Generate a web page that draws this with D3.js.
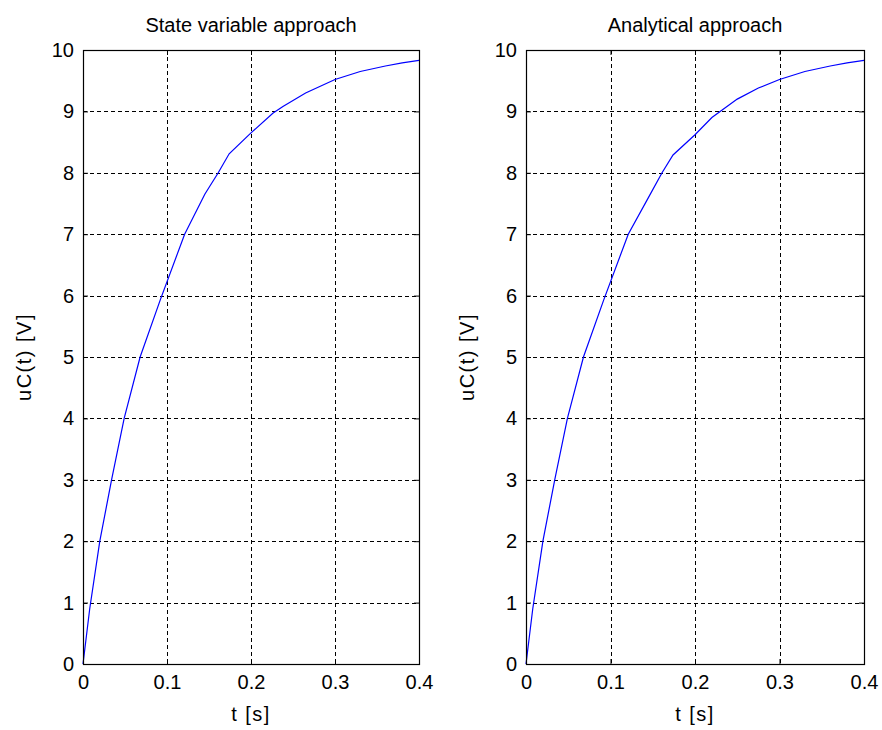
<!DOCTYPE html>
<html>
<head>
<meta charset="utf-8">
<script src="https://cdn.jsdelivr.net/npm/d3@7"></script>
<style>
  body { margin: 0; background: #fff; }
  text { font-family: "Liberation Sans", Arial, sans-serif; fill: #000; }
</style>
</head>
<body>
<div id="chartHolder"></div>
<script>
// values
const stateT = [0, 0.008, 0.02, 0.034, 0.049, 0.068, 0.092, 0.121, 0.145, 0.161, 0.174, 0.2, 0.226, 0.238, 0.265, 0.3, 0.33, 0.36, 0.38, 0.4];
const stateV = [0, 0.9, 2.0, 3.0, 4.0, 5.0, 5.93, 7.0, 7.65, 8.0, 8.31, 8.65, 8.97, 9.08, 9.3, 9.52, 9.65, 9.74, 9.79, 9.83];
const analytT = [0, 0.008, 0.02, 0.034, 0.049, 0.068, 0.092, 0.121, 0.145, 0.161, 0.174, 0.2, 0.22, 0.25, 0.275, 0.3, 0.33, 0.36, 0.38, 0.4];
const analytV = [0, 0.9, 2.0, 3.0, 4.0, 5.0, 5.93, 7.0, 7.6, 8.0, 8.29, 8.62, 8.9, 9.2, 9.38, 9.52, 9.65, 9.74, 9.79, 9.83];
const xTicks = [0, 0.1, 0.2, 0.3, 0.4];
const yTicks = [0, 1, 2, 3, 4, 5, 6, 7, 8, 9, 10];
const titles = ["State variable approach", "Analytical approach"];

const width = 882;
const height = 730;
const svg = d3.select("#chartHolder")
  .append("svg")
  .attr("width", width)
  .attr("height", height);

function drawPanel(left, right, title, ts, vs) {
  const top = 50, bottom = 664;
  const x = d3.scaleLinear().domain([0, 0.4]).range([left, right]);
  const y = d3.scaleLinear().domain([0, 10]).range([bottom, top]);
  const g = svg.append("g");

  // grid
  g.selectAll(".vgrid").data(xTicks.slice(1, -1)).enter().append("line")
    .attr("x1", d => Math.round(x(d)) + 0.5).attr("x2", d => Math.round(x(d)) + 0.5)
    .attr("y1", top).attr("y2", bottom)
    .attr("stroke", "#000").attr("stroke-dasharray", "4,3");
  g.selectAll(".hgrid").data(yTicks.slice(1, -1)).enter().append("line")
    .attr("y1", d => Math.round(y(d)) + 0.5).attr("y2", d => Math.round(y(d)) + 0.5)
    .attr("x1", left).attr("x2", right)
    .attr("stroke", "#000").attr("stroke-dasharray", "4,3");

  // curve
  const line = d3.line().x((d, i) => x(ts[i])).y(d => y(d));
  g.append("path").datum(vs)
    .attr("d", line)
    .attr("fill", "none")
    .attr("stroke", "#0000ff")
    .attr("stroke-width", 1.2);

  // axes
  const xAxis = d3.axisBottom(x).tickValues(xTicks).tickSizeInner(-5).tickSizeOuter(0)
    .tickPadding(11).tickFormat(d3.format("~g"));
  const yAxis = d3.axisLeft(y).tickValues(yTicks).tickSizeInner(-5).tickSizeOuter(0)
    .tickPadding(9).tickFormat(d3.format("d"));
  const ax = g.append("g").attr("transform", `translate(0,${bottom})`).call(xAxis);
  const ay = g.append("g").attr("transform", `translate(${left},0)`).call(yAxis);
  const ax2 = g.append("g").attr("transform", `translate(0,${top})`)
    .call(d3.axisTop(x).tickValues(xTicks).tickSizeInner(-5).tickSizeOuter(0).tickFormat(""));
  const ay2 = g.append("g").attr("transform", `translate(${right},0)`)
    .call(d3.axisRight(y).tickValues(yTicks).tickSizeInner(-5).tickSizeOuter(0).tickFormat(""));
  [ax, ay, ax2, ay2].forEach(a => {
    a.select(".domain").remove();
    a.selectAll("line").attr("stroke", "#000");
    a.selectAll("text").style("font-size", "20px").style("font-family", "Liberation Sans, Arial, sans-serif");
  });

  // box
  g.append("rect")
    .attr("x", left + 0.5).attr("y", top + 0.5)
    .attr("width", right - left).attr("height", bottom - top)
    .attr("fill", "none").attr("stroke", "#000").attr("stroke-width", 1.2);

  // labels
  g.append("text")
    .attr("x", (left + right) / 2).attr("y", 32)
    .attr("text-anchor", "middle")
    .style("font-size", "20px")
    .text(title);
  g.append("text")
    .attr("x", (left + right) / 2).attr("y", 721)
    .attr("text-anchor", "middle")
    .style("font-size", "20px")
    .style("letter-spacing", "1.5px")
    .text("t [s]");
  g.append("text")
    .attr("transform", `translate(${left - 52},${(top + bottom) / 2}) rotate(-90)`)
    .attr("text-anchor", "middle")
    .style("font-size", "20px")
    .style("letter-spacing", "1.5px")
    .text("uC(t) [V]");
}

drawPanel(83, 419, titles[0], stateT, stateV);
drawPanel(526, 864, titles[1], analytT, analytV);
</script>
</body>
</html>
